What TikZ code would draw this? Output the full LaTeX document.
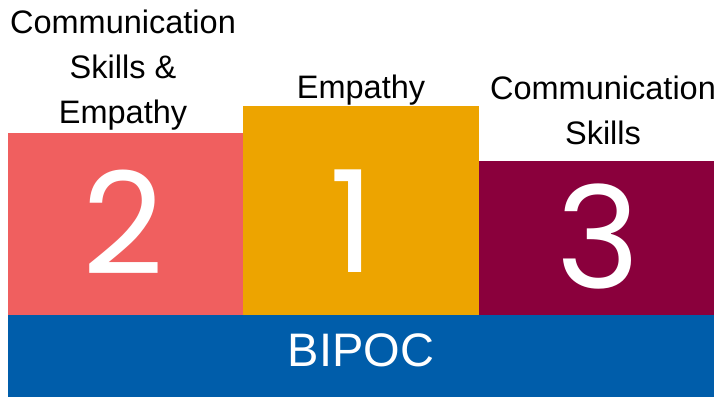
\documentclass[tikz,border=0pt]{standalone}
\usepackage{fontspec}
\setmainfont{Liberation Sans}
\newfontfamily\digitfont{Poppins}
\definecolor{cred}{HTML}{F05F5F}
\definecolor{corange}{HTML}{EDA400}
\definecolor{cmaroon}{HTML}{8A003C}
\definecolor{cblue}{HTML}{005DAA}
\begin{document}
\begin{tikzpicture}[x=1pt,y=-1pt,
  box/.style={inner sep=0pt, outer sep=0pt, draw=none, anchor=north west},
  digit/.style={text=white, font=\digitfont\fontsize{142}{142}\selectfont, inner sep=0pt},
  lbl/.style={align=center, font=\fontsize{32.5}{45}\selectfont, inner sep=0pt, anchor=base},
  bartext/.style={text=white, font=\fontsize{47}{50}\selectfont, inner sep=0pt, anchor=base}]
\useasboundingbox (0,0) rectangle (719,397);
\fill[white] (0,0) rectangle (719,397);
\node[box, fill=cred, minimum width=235pt, minimum height=182pt] (b2) at (8,133) {};
\node[box, fill=corange, minimum width=236pt, minimum height=209pt] (b1) at (243,106) {};
\node[box, fill=cmaroon, minimum width=235pt, minimum height=154pt] (b3) at (479,161) {};
\node[box, fill=cblue, minimum width=706pt, minimum height=82pt] (bipocbar) at (8,315) {};
\node[digit] (d2) at (123,222) {2};
\node[digit] (d1) at (352,221) {1};
\node[digit] (d3) at (598,237) {3};
\node[bartext] (bipoc) at (361,366) {BIPOC};
\node[lbl] (l2) at (123,123) {Communication\\Skills \&\\Empathy};
\node[lbl] (l1) at (361,98) {Empathy};
\node[lbl] (l3) at (603,144) {Communication\\Skills};
\end{tikzpicture}
\end{document}
